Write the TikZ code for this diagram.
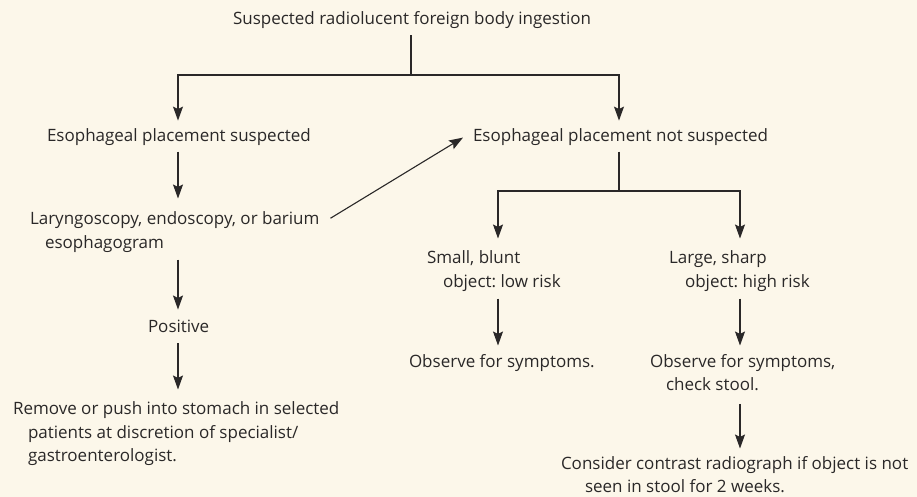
\documentclass[tikz,border=0pt]{standalone}
\usepackage{fontspec}
\setmainfont{Open Sans}
\usetikzlibrary{positioning, arrows.meta}
\definecolor{creambg}{HTML}{FCF7EA}
\definecolor{inkgray}{HTML}{2A2828}
\frenchspacing

\begin{document}
\begin{tikzpicture}[
    x=1pt, y=-1pt,
    txt/.style={inner sep=0pt, outer sep=0pt, align=left, text=inkgray, font=\fontsize{17}{23.5}\selectfont},
    ln/.style={draw=inkgray, line width=1.1pt},
    arr/.style={ln, -{Stealth[length=14pt, width=10pt, inset=2.5pt]}, shorten >=10pt, shorten <=7pt}
]
    % background and picture size
    \fill[creambg] (0,0) rectangle (917,497);
    \useasboundingbox (0,0) rectangle (917,497);

    \node[txt, anchor=base west] (title) at (233,25) {Suspected radiolucent foreign body ingestion};

    \node[txt, anchor=base west] (sus) at (47,142) {Esophageal placement suspected};
    \node[txt, anchor=base west] (notsus) at (473,142) {Esophageal placement not suspected};

    \node[txt, anchor=north west] (endo) at (30,212) {Laryngoscopy, endoscopy, or barium\\\hspace*{15pt}esophagogram};
    \node[txt, anchor=base west] (pos) at (148,332) {Positive};
    \node[txt, anchor=north west] (remove) at (13,402) {Remove or push into stomach in selected\\\hspace*{15pt}patients at discretion of specialist/\\\hspace*{15pt}gastroenterologist.};

    \node[txt, anchor=north west] (small) at (427,251) {Small, blunt\\\hspace*{16pt}object: low risk};
    \node[txt, anchor=north west] (large) at (669,251) {Large, sharp\\\hspace*{16pt}object: high risk};
    \node[txt, anchor=base west] (obs1) at (409,367) {Observe for symptoms.};
    \node[txt, anchor=north west] (obs2) at (650,354) {Observe for symptoms,\\\hspace*{16pt}check stool.};
    \node[txt, anchor=north west] (contrast) at (561,456) {Consider contrast radiograph if object is not\\\hspace*{24pt}seen in stool for 2 weeks.};

    % branch points
    \coordinate (fork1) at (411,75);
    \coordinate (fork1l) at (178,75);
    \coordinate (fork1r) at (619,75);
    \coordinate (fork2) at (619,191);
    \coordinate (fork2l) at (498,191);
    \coordinate (fork2r) at (740,191);

    \draw[ln, shorten <=6pt] (title.south -| fork1) -- (fork1);
    \draw[arr, shorten <=0pt, shorten >=8.5pt] (fork1) -| (sus.north -| fork1l);
    \draw[arr, shorten <=0pt, shorten >=8.5pt] (fork1) -| (notsus.north -| fork1r);

    \draw[arr, shorten <=5.5pt, shorten >=13.5pt] (sus.south -| fork1l) -- (endo.north -| fork1l);
    \draw[arr] (endo.south -| fork1l) -- (pos.north -| fork1l);
    \draw[arr, shorten <=11pt, shorten >=12.5pt] (pos.south -| fork1l) -- (remove.north -| fork1l);
    \draw[ln, -{Stealth[length=14pt, width=10pt, inset=2.5pt]}] ([shift={(11,-14)}]endo.east) -- ([xshift=-10pt]notsus.west);

    \draw[ln, shorten <=5.5pt] (notsus.south -| fork2) -- (fork2);
    \draw[arr, shorten <=0pt, shorten >=12.5pt] (fork2) -| (small.north -| fork2l);
    \draw[arr, shorten <=0pt, shorten >=12.5pt] (fork2) -| (large.north -| fork2r);

    \draw[arr, shorten >=8.5pt] (small.south -| fork2l) -- (obs1.north -| fork2l);
    \draw[arr, shorten >=8.5pt] (large.south -| fork2r) -- (obs2.north -| fork2r);
    \draw[arr, shorten <=13pt, shorten >=7.5pt] (obs2.south -| fork2r) -- (contrast.north -| fork2r);
\end{tikzpicture}
\end{document}
